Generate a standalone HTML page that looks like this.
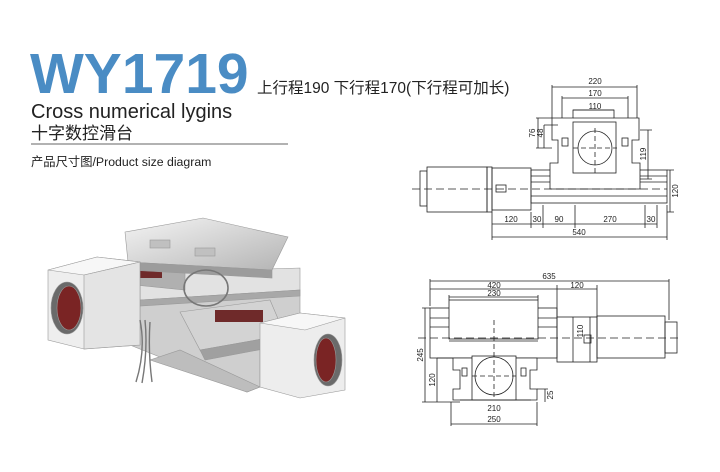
<!DOCTYPE html>
<html><head><meta charset="utf-8"><style>
html,body{margin:0;padding:0;background:#fff;}
svg{display:block}
</style></head><body>
<svg width="720" height="472" viewBox="0 0 720 472" xmlns="http://www.w3.org/2000/svg">
<defs>
<linearGradient id="g1" x1="0" y1="0" x2="1" y2="1"><stop offset="0" stop-color="#f4f4f4"/><stop offset="1" stop-color="#b4b4b4"/></linearGradient>
<linearGradient id="g2" x1="0" y1="0" x2="0" y2="1"><stop offset="0" stop-color="#d8d8d8"/><stop offset="1" stop-color="#9a9a9a"/></linearGradient>
</defs>
<rect width="720" height="472" fill="#fff"/>
<text x="30" y="93" font-family="Liberation Sans,sans-serif" font-weight="bold" font-size="57" fill="#4a8cc4">WY1719</text>
<text x="257" y="93" font-family="Liberation Sans,'Noto Sans CJK SC',sans-serif" font-size="15.5" fill="#222">上行程190 下行程170(下行程可加长)</text>
<text x="31" y="118" font-family="Liberation Sans,sans-serif" font-size="20" fill="#222">Cross numerical lygins</text>
<text x="31" y="139" font-family="Liberation Sans,'Noto Sans CJK SC',sans-serif" font-size="17" fill="#222">十字数控滑台</text>
<line x1="31" y1="144" x2="288" y2="144" stroke="#666" stroke-width="1"/>
<text x="31" y="166" font-family="Liberation Sans,'Noto Sans CJK SC',sans-serif" font-size="12.3" fill="#222">产品尺寸图/Product size diagram</text>

<!-- photo approximation -->
<g stroke="#999" stroke-width="0.6">
<!-- base -->
<polygon points="117,333 140,300 300,290 300,330 260,345 260,387 247,392 130,345" fill="#cfcfcf"/>
<polygon points="150,360 247,392 260,387 180,350" fill="#bdbdbd"/>
<!-- middle plate -->
<polygon points="140,273 300,268 300,290 140,300" fill="#e2e2e2"/>
<polygon points="140,300 300,290 300,296 140,306" fill="#a8a8a8"/>
<!-- rail left -->
<polygon points="135,255 185,252 185,290 135,285" fill="#b0b0b0"/>
<rect x="140" y="262" width="22" height="16" fill="#6f2a2a" stroke="none"/>
<!-- top table -->
<polygon points="125,232 203,218 288,237 272,270 128,262" fill="url(#g1)"/>
<polygon points="128,262 272,270 272,278 128,270" fill="#9c9c9c"/>
<rect x="150" y="240" width="20" height="8" fill="#c0c0c0"/>
<rect x="195" y="248" width="20" height="8" fill="#c0c0c0"/>
<!-- lower carriage -->
<polygon points="180,312 270,300 285,335 200,350" fill="#d3d3d3"/>
<polygon points="200,350 285,335 285,345 205,360" fill="#a0a0a0"/>
<rect x="215" y="310" width="48" height="12" fill="#6f2a2a" stroke="none"/>
<!-- left cube -->
<polygon points="48,270 97,257 140,262 140,345 84,349 48,340" fill="#eeeeee"/>
<polygon points="48,270 97,257 140,262 84,275" fill="#f7f7f7"/>
<polygon points="84,275 140,262 140,345 84,349" fill="#e4e4e4"/>
<ellipse cx="67" cy="308" rx="16" ry="26" fill="#6a6a6a"/>
<ellipse cx="69" cy="308" rx="12" ry="22" fill="#7a2424"/>
<!-- right cube -->
<polygon points="260,323 300,313 345,318 345,390 300,398 260,387" fill="#ededed"/>
<polygon points="260,323 300,313 345,318 305,330" fill="#f7f7f7"/>
<ellipse cx="328" cy="360" rx="14" ry="26" fill="#6a6a6a"/>
<ellipse cx="326" cy="360" rx="10" ry="22" fill="#7a2424"/>
<!-- cables -->
<ellipse cx="206" cy="288" rx="22" ry="18" fill="none" stroke="#777" stroke-width="1.6"/>
<path d="M140,320 q6,30 -4,62 M145,320 q3,30 -3,63 M150,322 q-2,30 2,60" fill="none" stroke="#777" stroke-width="1.4"/>
</g>

<!-- top drawing -->
<g stroke="#222" stroke-width="0.8" fill="none" font-family="Liberation Sans,sans-serif">
<rect x="420" y="171" width="7" height="35" fill="#fff"/>
<rect x="427" y="167" width="60" height="45" fill="#fff"/>
<rect x="487" y="167" width="5" height="45"/>
<rect x="492" y="168" width="39" height="42"/>
<rect x="496" y="185" width="10" height="7"/>
<rect x="531" y="170" width="136" height="33"/>
<line x1="531" y1="176" x2="667" y2="176"/>
<line x1="531" y1="182" x2="667" y2="182"/>
<line x1="531" y1="196" x2="667" y2="196"/>
<path d="M550,189 V163 H558 V140 H552 V118 H573 V110 H614 V118 H639 V140 H632 V163 H640 V189 Z" fill="#fff"/>
<rect x="573" y="122" width="43" height="51"/>
<line x1="573" y1="118" x2="614" y2="118"/>
<circle cx="595" cy="148" r="17"/>
<rect x="562" y="138" width="6" height="8"/><rect x="622" y="138" width="6" height="8"/>
<line x1="412" y1="189" x2="667" y2="189" stroke-dasharray="8,4"/>
<line x1="573" y1="148" x2="617" y2="148" stroke-dasharray="5,3"/>
<line x1="595" y1="128" x2="595" y2="175" stroke-dasharray="5,3"/>
<path d="M552,118 V85 M637,118 V85 M552,87 H637 M562,118 V96 M628,118 V96 M562,98 H628 M573,110 H614"/>
<path d="M536,118 H552 M536,148 H552 M538,118 V148 M544,125 V148 M544,125 H558"/>
<path d="M640,130 H652 M640,179 H652 M648,130 V179 M667,170 H674 M667,212 H674 M670,170 V212"/>
<path d="M492,212 V240 M531,212 V228 M543,205 V228 M575,205 V228 M645,205 V228 M657,205 V228 M667,205 V240 M492,224 H657 M492,237 H667"/>
</g>
<g font-family="Liberation Sans,sans-serif" font-size="8" fill="#222" text-anchor="middle">
<text x="595" y="84">220</text><text x="595" y="96">170</text><text x="595" y="109">110</text>
<text x="511" y="222">120</text><text x="537" y="222">30</text><text x="559" y="222">90</text><text x="610" y="222">270</text><text x="651" y="222">30</text>
<text x="579" y="235">540</text>
<text transform="translate(535,133) rotate(-90)">76</text>
<text transform="translate(543,133) rotate(-90)">48</text>
<text transform="translate(646,154) rotate(-90)">119</text>
<text transform="translate(678,191) rotate(-90)">120</text>
</g>

<!-- bottom drawing -->
<g stroke="#222" stroke-width="0.8" fill="none">
<rect x="430" y="308" width="127" height="50"/>
<rect x="449" y="300" width="89" height="39" fill="#fff"/>
<line x1="430" y1="318" x2="449" y2="318"/><line x1="538" y1="318" x2="557" y2="318"/>
<line x1="430" y1="327" x2="449" y2="327"/><line x1="538" y1="327" x2="557" y2="327"/>
<line x1="449" y1="341" x2="538" y2="341"/>
<rect x="557" y="317" width="40" height="45"/>
<line x1="573" y1="317" x2="573" y2="362"/>
<rect x="597" y="316" width="68" height="42"/>
<rect x="665" y="322" width="12" height="31"/>
<rect x="584" y="335" width="7" height="8"/>
<path d="M453,400 V389 H460 V370 H453 V358 H537 V370 H530 V389 H537 V400 Z" fill="#fff"/>
<rect x="472" y="356" width="44" height="44" fill="#fff"/>
<circle cx="494" cy="376" r="19"/>
<rect x="462" y="368" width="5" height="8"/><rect x="521" y="368" width="5" height="8"/>
<line x1="418" y1="338" x2="680" y2="338" stroke-dasharray="8,4"/>
<line x1="494" y1="320" x2="494" y2="400" stroke-dasharray="5,3"/>
<line x1="472" y1="376" x2="516" y2="376" stroke-dasharray="5,3"/>
<path d="M430,306 V279 M669,320 V279 M430,281 H669 M430,289 H557 M557,285 V317 M597,285 V317 M557,289 H597 M449,300 V295 M538,300 V295 M449,297 H538"/>
<path d="M422,308 H430 M425,308 V402 M422,402 H460 M437,358 V402 M437,358 H453"/>
<path d="M460,400 H531 M451,402 V426 M537,402 V426 M451,424 H537 M537,389 H548 M545,389 V402"/>
<path d="M590,317 V362"/>
</g>
<g font-family="Liberation Sans,sans-serif" font-size="8" fill="#222" text-anchor="middle">
<text x="549" y="279">635</text><text x="494" y="288">420</text><text x="577" y="288">120</text><text x="494" y="296">230</text>
<text x="494" y="411">210</text><text x="494" y="422">250</text>
<text transform="translate(423,355) rotate(-90)">245</text>
<text transform="translate(435,380) rotate(-90)">120</text>
<text transform="translate(553,395) rotate(-90)">25</text>
<text transform="translate(583,331) rotate(-90)">110</text>
</g>
</svg>
</body></html>
